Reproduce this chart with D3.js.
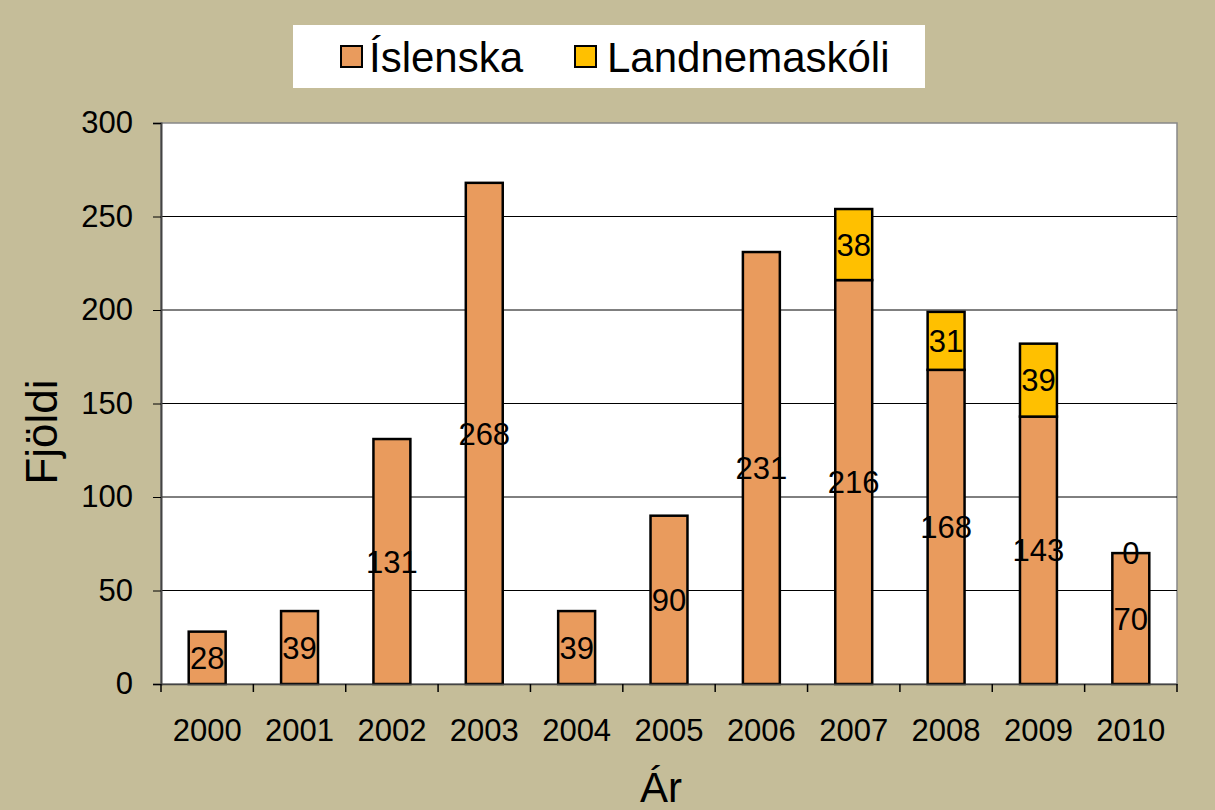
<!DOCTYPE html>
<html>
<head>
<meta charset="UTF-8">
<title></title>
<style>
  body { margin: 0; background: #c5bd99; }
  text { font-family: Arial, "Liberation Sans", sans-serif; }
</style>
</head>
<body>
<script src="https://cdn.jsdelivr.net/npm/d3@7"></script>
<script>
var years = ['2000', '2001', '2002', '2003', '2004', '2005', '2006', '2007', '2008', '2009', '2010'];
var islenska = [28, 39, 131, 268, 39, 90, 231, 216, 168, 143, 70];
var landnema = [null, null, null, null, null, null, null, 38, 31, 39, 0];
var seriesNames = ['Íslenska', 'Landnemaskóli'];
var colors = ['#e99b5d', '#ffc000'];
var yTicks = [0, 50, 100, 150, 200, 250, 300];

var W = 1215, H = 810;
var m = { left: 161, right: 1177, top: 123, bottom: 684 };
var fs = 31;

var svg = d3.select('body').append('svg')
  .attr('width', W)
  .attr('height', H);

svg.append('rect')
  .attr('width', W).attr('height', H)
  .attr('fill', '#c5bd99');

var x = d3.scaleBand()
  .domain(years)
  .range([m.left, m.right])
  .paddingInner(0.6)
  .paddingOuter(0.3);

var y = d3.scaleLinear()
  .domain([0, 300])
  .range([m.bottom, m.top]);

// plot area
svg.append('rect')
  .attr('x', m.left).attr('y', m.top)
  .attr('width', m.right - m.left).attr('height', m.bottom - m.top)
  .attr('fill', '#fff')
  .attr('stroke', '#888')
  .attr('stroke-width', 1.5);

// gridlines
svg.append('g').selectAll('line')
  .data(yTicks.filter(function(d) { return d > 0 && d < 300; }))
  .enter().append('line')
  .attr('x1', m.left).attr('x2', m.right)
  .attr('y1', function(d) { return y(d); })
  .attr('y2', function(d) { return y(d); })
  .attr('stroke', '#000')
  .attr('stroke-width', 1);

// bars
var stacked = years.map(function(yr, i) {
  return { year: yr, a: islenska[i], b: landnema[i] };
});

var g = svg.append('g');
stacked.forEach(function(d) {
  g.append('rect')
    .attr('x', x(d.year)).attr('width', x.bandwidth())
    .attr('y', y(d.a)).attr('height', y(0) - y(d.a))
    .attr('fill', colors[0])
    .attr('stroke', '#000').attr('stroke-width', 2.5);
  if (d.b !== null) {
    g.append('rect')
      .attr('x', x(d.year)).attr('width', x.bandwidth())
      .attr('y', y(d.a + d.b)).attr('height', y(d.a) - y(d.a + d.b))
      .attr('fill', colors[1])
      .attr('stroke', '#000').attr('stroke-width', 2.5);
  }
});

// labels
stacked.forEach(function(d) {
  var cx = x(d.year) + x.bandwidth() / 2;
  g.append('text')
    .attr('x', cx).attr('y', y(d.a / 2))
    .attr('dy', '0.36em')
    .attr('text-anchor', 'middle')
    .attr('font-size', fs)
    .text(d.a);
  if (d.b !== null) {
    g.append('text')
      .attr('x', cx).attr('y', y(d.a + d.b / 2))
      .attr('dy', '0.36em')
      .attr('text-anchor', 'middle')
      .attr('font-size', fs)
      .text(d.b);
  }
});

// y axis
var yAxis = svg.append('g')
  .attr('transform', 'translate(' + m.left + ',0)')
  .call(d3.axisLeft(y).tickValues(yTicks).tickSize(8).tickPadding(20));
yAxis.select('.domain').attr('stroke', '#444').attr('stroke-width', 2);
yAxis.selectAll('.tick line').attr('stroke', '#000');
yAxis.selectAll('text')
  .attr('font-size', fs)
  .attr('fill', '#000')
  .style('font-family', 'Arial, "Liberation Sans", sans-serif');

// x axis
var xAxis = svg.append('g')
  .attr('transform', 'translate(0,' + m.bottom + ')')
  .call(d3.axisBottom(x).tickSize(0).tickPadding(0));
xAxis.select('.domain').attr('stroke', '#444').attr('stroke-width', 1.5);
xAxis.selectAll('text')
  .attr('y', 57)
  .attr('dy', 0)
  .attr('font-size', fs)
  .attr('fill', '#000')
  .style('font-family', 'Arial, "Liberation Sans", sans-serif');

// category separator ticks
var seps = d3.range(years.length + 1).map(function(i) { return m.left + i * (m.right - m.left) / years.length; });
svg.append('g').selectAll('line')
  .data(seps)
  .enter().append('line')
  .attr('x1', function(d) { return d; }).attr('x2', function(d) { return d; })
  .attr('y1', m.bottom).attr('y2', m.bottom + 8)
  .attr('stroke', '#000').attr('stroke-width', 1.5);

// axis titles
svg.append('text')
  .attr('transform', 'translate(57,432) rotate(-90)')
  .attr('text-anchor', 'middle')
  .attr('font-size', 44)
  .text('Fjöldi');

svg.append('text')
  .attr('x', 661)
  .attr('y', 802)
  .attr('text-anchor', 'middle')
  .attr('font-size', 42)
  .text('Ár');

// legend
var leg = svg.append('g');
leg.append('rect')
  .attr('x', 293).attr('y', 25)
  .attr('width', 632).attr('height', 63)
  .attr('fill', '#fff');

var legX = [341, 575];
var legTextX = [369, 607];
seriesNames.forEach(function(name, i) {
  leg.append('rect')
    .attr('x', legX[i]).attr('y', 46)
    .attr('width', 21).attr('height', 21)
    .attr('fill', colors[i])
    .attr('stroke', '#000').attr('stroke-width', 2);
  leg.append('text')
    .attr('x', legTextX[i]).attr('y', 72)
    .attr('font-size', 42)
    .text(name);
});
</script>
</body>
</html>
